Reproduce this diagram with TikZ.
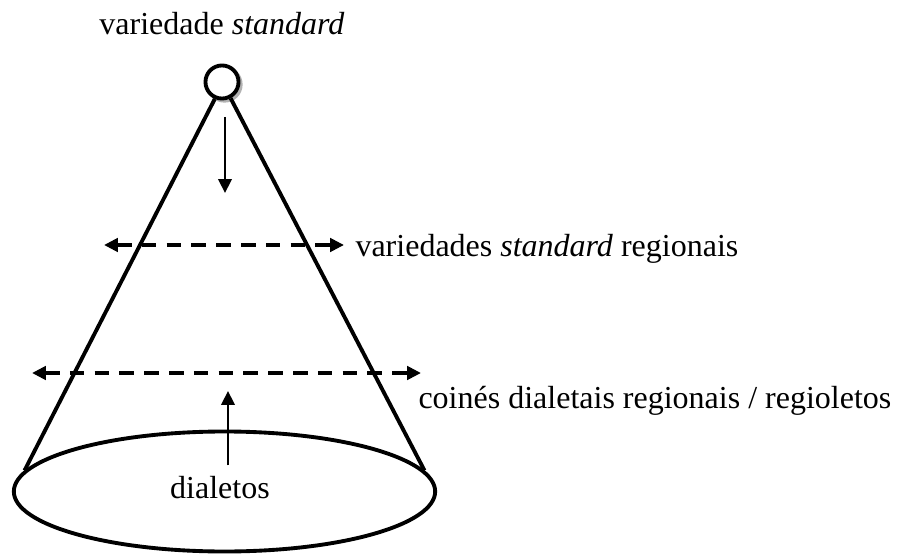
\documentclass[tikz,border=0pt]{standalone}
\usepackage{fontspec}
\setmainfont{Liberation Serif}
\usetikzlibrary{arrows.meta,calc,positioning,shapes.geometric}

\begin{document}
\begin{tikzpicture}[x=0.375pt,y=-0.375pt,
          cone/.style={line width=1.45pt},
          flow/.style={-{Triangle[length=5.2pt,width=5pt]},line width=0.9pt},
          span/.style={{Triangle[length=5.2pt,width=5pt]}-{Triangle[length=5.2pt,width=5pt]},
            line width=1.3pt,dash pattern=on 5.5pt off 3.8pt},
          lbl/.style={font=\fontsize{12}{14}\selectfont,inner sep=0pt}]
        \useasboundingbox (0,0) rectangle (900,556);
        % base and apex of the cone
        \node[draw,cone,ellipse,minimum width=158pt,minimum height=45pt,inner sep=0pt]
          (base) at (224.5,491.5) {};
        \node[draw=black!30,line width=1.2pt,circle,minimum size=12.4pt,inner sep=0pt]
          (shade) at (224.5,84.5) {};
        \node[draw,fill=white,cone,circle,minimum size=12.4pt,inner sep=0pt]
          (apex) at (222,82) {};
        \draw[cone] (apex.-113) -- (base.174);
        \draw[cone] (apex.-62) -- (base.6);
        % labels
        \node[lbl,anchor=base] (top) at (222,35) {variedade \textit{standard}};
        \node[lbl,anchor=base west] (mid) at (355,257) {variedades \textit{standard} regionais};
        \node[lbl,anchor=base west] (low) at (418,408) {coinés dialetais regionais / regioletos};
        \node[lbl,anchor=base] (dial) at (220,498) {dialetos};
        % arrows
        \coordinate (downS) at (225,117);
        \coordinate (downE) at (225,193);
        \coordinate (upS) at ($(dial.north)+(8,-10)$);
        \coordinate (upE) at (228,391);
        \draw[flow] (downS) -- (downE);
        \draw[flow] (upS) -- (upE);
        \coordinate (midL) at (104,245);
        \coordinate (midR) at (344,245);
        \coordinate (lowL) at (32,373);
        \coordinate (lowR) at (421,373);
        \draw[span] (midL) -- (midR);
        \draw[span] (lowL) -- (lowR);
\end{tikzpicture}
\end{document}
